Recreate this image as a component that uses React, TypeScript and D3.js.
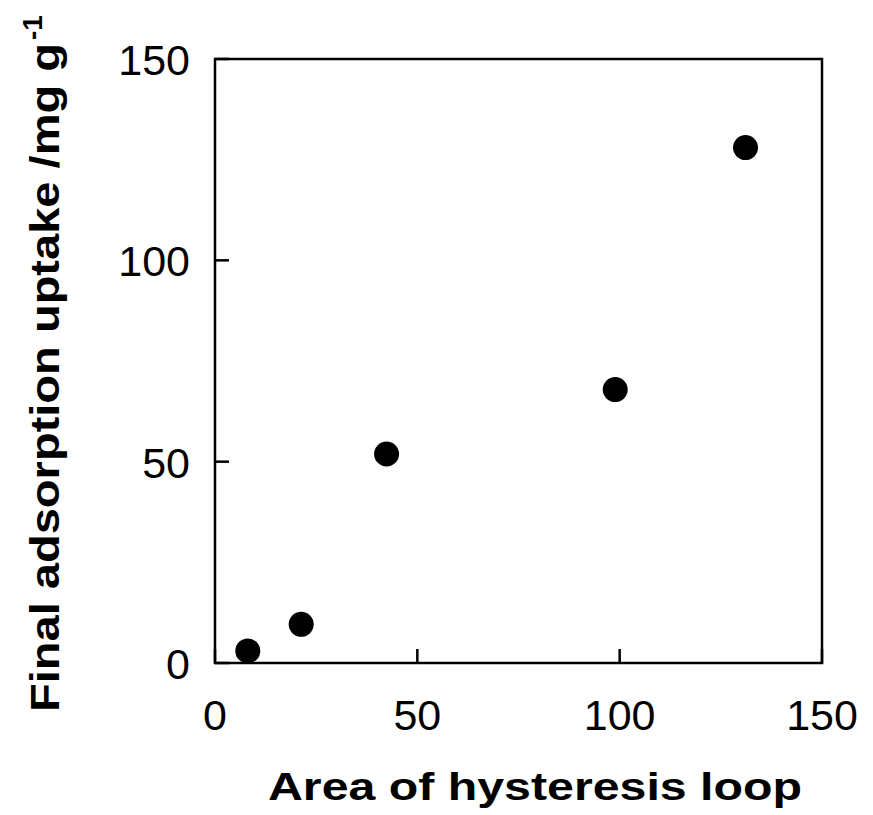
import React from "react";
import * as d3 from "d3";

const areaValues = [8.1, 21.3, 42.4, 98.9, 131.1];
const uptakeValues = [3.0, 9.6, 51.9, 67.9, 128.0];
const xTicks = [0, 50, 100, 150];
const yTicks = [0, 50, 100, 150];
const xTitle = "Area of hysteresis loop";
const yTitle = "Final adsorption uptake /mg g";
const yTitleSup = "-1";

const W = 873;
const H = 815;
const M = { left: 215, right: 51, top: 59, bottom: 152 };

export default function App() {
  const x = d3.scaleLinear().domain([0, 150]).range([M.left, W - M.right]);
  const y = d3.scaleLinear().domain([0, 150]).range([H - M.bottom, M.top]);
  const font = "'Liberation Sans', Arial, sans-serif";
  const tickLen = 14;
  const sw = 2.5;
  return (
    <svg
      width={W}
      height={H}
      style={{ position: "absolute", left: 0, top: 0, background: "#fff" }}
      fontFamily={font}
    >
      {/* frame */}
      <rect
        x={x(0)}
        y={y(150)}
        width={x(150) - x(0)}
        height={y(0) - y(150)}
        fill="none"
        stroke="#000"
        strokeWidth={sw}
      />
      {/* ticks */}
      {xTicks.map((t) => (
        <g key={"xt" + t}>
          <line x1={x(t)} x2={x(t)} y1={y(0)} y2={y(0) - tickLen} stroke="#000" strokeWidth={sw} />
          <text x={x(t)} y={y(0) + 67} textAnchor="middle" fontSize={43}>
            {t}
          </text>
        </g>
      ))}
      {yTicks.map((t) => (
        <g key={"yt" + t}>
          <line x1={x(0)} x2={x(0) + tickLen} y1={y(t)} y2={y(t)} stroke="#000" strokeWidth={sw} />
          <text x={x(0) - 25} y={y(t) + 16} textAnchor="end" fontSize={43}>
            {t}
          </text>
        </g>
      ))}
      {/* points */}
      {areaValues.map((a, i) => (
        <circle key={"p" + i} cx={x(a)} cy={y(uptakeValues[i])} r={12.5} fill="#000" />
      ))}
      {/* x title */}
      <text
        x={268}
        y={800}
        fontSize={38}
        fontWeight="bold"
        textLength={534}
        lengthAdjust="spacingAndGlyphs"
      >
        {xTitle}
      </text>
      {/* y title */}
      <text
        transform="translate(59,712) rotate(-90)"
        fontSize={41}
        fontWeight="bold"
        textLength={669}
        lengthAdjust="spacingAndGlyphs"
      >
        {yTitle}
      </text>
      <text transform="translate(42,40) rotate(-90)" fontSize={28} fontWeight="bold">
        {yTitleSup}
      </text>
    </svg>
  );
}
